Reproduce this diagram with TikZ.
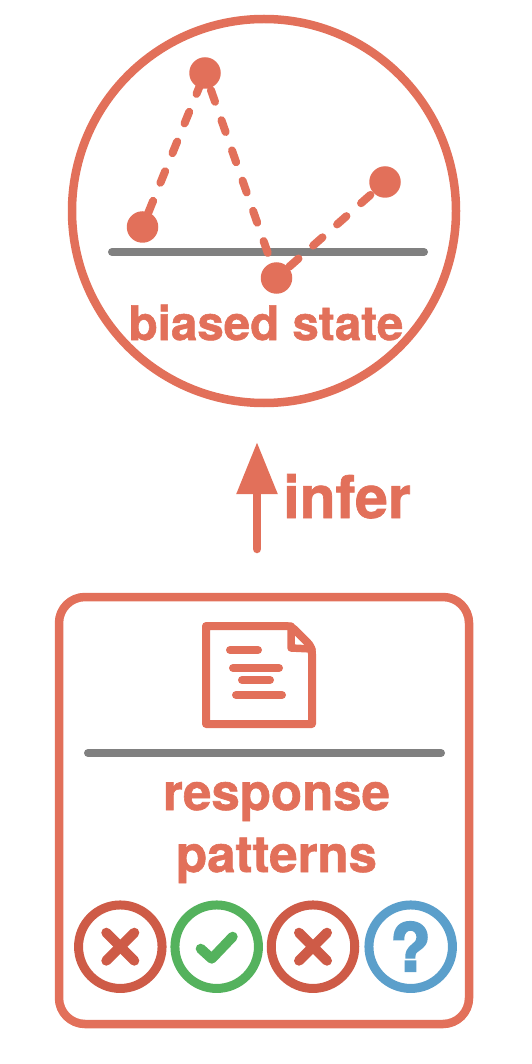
\documentclass[tikz,border=0pt]{standalone}
\usepackage{xcolor}
\usepackage{fontspec}
\setmainfont{TeX Gyre Heros}[BoldFeatures={FakeBold=1.2}]
\newfontfamily\heavyfont{TeX Gyre Heros}[BoldFeatures={FakeBold=3}]
\usetikzlibrary{arrows.meta, positioning}
\definecolor{acc}{RGB}{226, 112, 90}
\definecolor{bad}{RGB}{206, 91, 71}
\definecolor{grn}{RGB}{84, 178, 93}
\definecolor{unk}{RGB}{91, 159, 203}
\definecolor{rule}{RGB}{128, 128, 128}

\begin{document}
\begin{tikzpicture}[
    x=1pt, y=-1pt, line width=8.5pt,
    outline/.style={circle, draw=acc, inner sep=0pt, minimum size=384pt},
    dot/.style={circle, fill=acc, inner sep=0pt, minimum size=31.5pt},
    trace/.style={acc, line width=8pt, line cap=round, dash pattern=on 12.5pt off 19.5pt, dash phase=#1},
    baseline rule/.style={rule, line width=8pt, line cap=round},
    ink/.style={acc, line width=8pt, line cap=round, line join=round},
    lbl/.style={text=acc, font=\fontsize{#1}{62}\selectfont\bfseries, align=center, inner sep=0pt},
    answer/.style={circle, draw=#1, line width=9pt, inner sep=0pt, minimum size=83.5pt},
    mark/.style={#1, line width=10pt, line cap=round, line join=round}
  ]
  \useasboundingbox (0,0) rectangle (532,1064);

  % upper circle
  \node[outline] (state) at (264,211) {};
  \coordinate (ruleL) at (112,252);
  \coordinate (ruleR) at (424,252);
  \draw[baseline rule] (ruleL) -- (ruleR);
  \node[dot] (p1) at (142.5,227) {};
  \node[dot] (p2) at (205,73) {};
  \node[dot] (p3) at (276.5,278) {};
  \node[dot] (p4) at (385,182) {};
  \draw[trace=22pt] (p2.center) -- (p1.center);
  \draw[trace=14pt] (p2.center) -- (p3.center);
  \draw[trace=12.5pt] (p4.center) -- (p3.center);
  \node[lbl=47.5, anchor=base] (statelbl) at (266,340) {biased state};

  % arrow
  \coordinate (arrowfrom) at (257,549);
  \coordinate (arrowto) at (257,442);
  \draw[acc, line cap=round, -{Triangle[length=52pt, width=39pt]}] (arrowfrom) -- (arrowto);
  \node[lbl=59, anchor=base west] (inferlbl) at (279,518) {infer};

  % lower box
  \node[draw=acc, rounded corners=26pt, inner sep=0pt, minimum width=410pt, minimum height=427pt] (box) at (264,810.5) {};

  % document icon
  \draw[ink] (206,626) -- (286,626) to[out=0, in=135] (296,631) -- (307,642) to[out=-45, in=90] (312,654) -- (312,724) -- (206,724) -- cycle;
  \draw[ink, line width=7.5pt] (291,626) -- (291,648) -- (312,649);
  \draw[ink] (230,650) -- (258,650);
  \draw[ink] (233,668) -- (279,668);
  \draw[ink] (242,680) -- (270,680);
  \draw[ink] (236,695) -- (282,695);

  \coordinate (ruleA) at (88,753);
  \coordinate (ruleB) at (441,753);
  \draw[baseline rule] (ruleA) -- (ruleB);
  \node[lbl=51, anchor=base] (patternlbl) at (276.5,872) {response\\patterns};

  % answers
  \node[answer=bad] (a1) at (120.3,946.7) {};
  \node[answer=grn] (a2) at (216.7,946.7) {};
  \node[answer=bad] (a3) at (313,946.7) {};
  \node[answer=unk] (a4) at (410.7,946.7) {};
  \foreach \a in {a1, a3} {
    \draw[mark=bad] (\a.center) ++(-14,-14) -- ++(28,28);
    \draw[mark=bad] (\a.center) ++(14,-14) -- ++(-28,28);
  }
  \draw[mark=grn] (a2.center) ++(-16,2) -- ++(11,10) -- ++(21,-22);
  \node[text=unk, font=\fontsize{66}{66}\selectfont\heavyfont\bfseries, inner sep=0pt, anchor=base] (unklbl) at (410.5,971) {?};
\end{tikzpicture}
\end{document}
